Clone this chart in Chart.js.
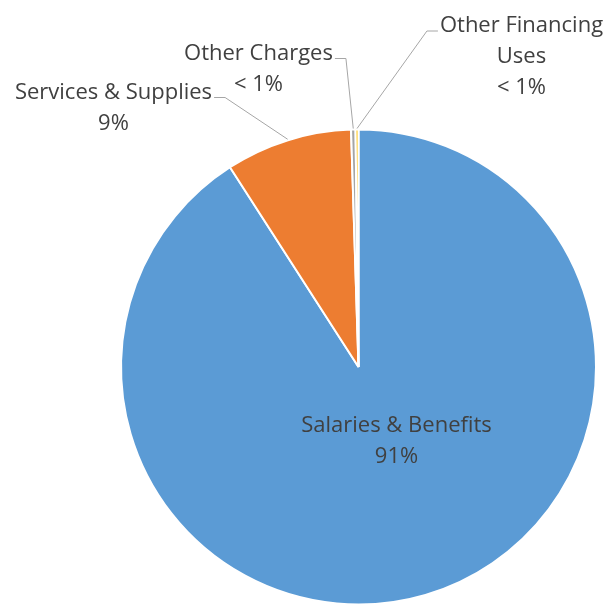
<!DOCTYPE html>
<html>
<head>
<meta charset="utf-8">
<script src="https://cdn.jsdelivr.net/npm/chart.js@4.4.1/dist/chart.umd.min.js"></script>
<style>
  html, body { margin: 0; padding: 0; background: #fff; overflow: hidden; }
  #wrap { width: 609px; height: 604px; overflow: hidden; }
</style>
</head>
<body>
<div id="wrap"><canvas id="myChart" width="609" height="620"></canvas></div>
<script>
'use strict'

// Data
var categories = ['Salaries & Benefits', 'Services & Supplies', 'Other Charges', 'Other Financing Uses']
var shares = [90.9, 8.6, 0.3, 0.2]
var shareLabels = ['91%', '9%', '< 1%', '< 1%']
var colors = ['#5B9BD5', '#ED7D31', '#A5A5A5', '#FFC000']

// how the category names wrap in the callouts
var wrapped = {
  'Other Financing Uses': ['Other Financing', 'Uses']
}

// label blocks relative to the pie centre, leader side
var placements = [
  { dx: 38, dy: 74, leader: null },
  { dx: -245, dy: -259, leader: 'right' },
  { dx: -100, dy: -298, leader: 'right' },
  { dx: 163, dy: -310, leader: 'left' }
]

var calloutPlugin = {
  id: 'callouts',
  afterDraw: function (chart) {
    var ctx = chart.ctx
    var meta = chart.getDatasetMeta(0)
    var lineH = 31
    ctx.save()
    ctx.font = '22px "Open Sans"'
    ctx.textAlign = 'center'
    ctx.textBaseline = 'middle'
    meta.data.forEach(function (arc, i) {
      var p = arc.getProps(['x', 'y', 'startAngle', 'endAngle', 'outerRadius'], true)
      var place = placements[i]
      var lines = (wrapped[categories[i]] || [categories[i]]).concat([shareLabels[i]])
      var cx = p.x + place.dx
      var top = p.y + place.dy - (lines.length - 1) * lineH / 2

      if (place.leader) {
        var mid = (p.startAngle + p.endAngle) / 2
        var ex = p.x + Math.cos(mid) * (p.outerRadius + 1)
        var ey = p.y + Math.sin(mid) * (p.outerRadius + 1)
        var w = ctx.measureText(lines[0]).width
        var sx, kx
        if (place.leader === 'right') {
          sx = cx + w / 2 + 2
          kx = sx + 11
        } else {
          sx = cx - w / 2 - 2
          kx = sx - 11
        }
        var sy = top + 5
        ctx.strokeStyle = '#A6A6A6'
        ctx.lineWidth = 1
        ctx.beginPath()
        ctx.moveTo(sx, sy)
        ctx.lineTo(kx, sy)
        ctx.lineTo(ex, ey)
        ctx.stroke()
      }

      ctx.fillStyle = '#404040'
      lines.forEach(function (t, k) {
        ctx.fillText(t, cx, top + k * lineH)
      })
    })
    ctx.restore()
  }
}

var ctx = document.getElementById('myChart')
// eslint-disable-next-line no-unused-vars
var myChart = new Chart(ctx, {
  type: 'pie',
  data: {
    labels: categories,
    datasets: [{
      data: shares,
      backgroundColor: colors,
      borderColor: '#FFFFFF',
      borderWidth: 2
    }]
  },
  options: {
    responsive: false,
    animation: false,
    layout: {
      padding: { left: 120, right: 12, top: 128.5, bottom: 14.5 }
    },
    plugins: {
      legend: { display: false },
      tooltip: { enabled: false }
    }
  },
  plugins: [calloutPlugin]
})
</script>
</body>
</html>
